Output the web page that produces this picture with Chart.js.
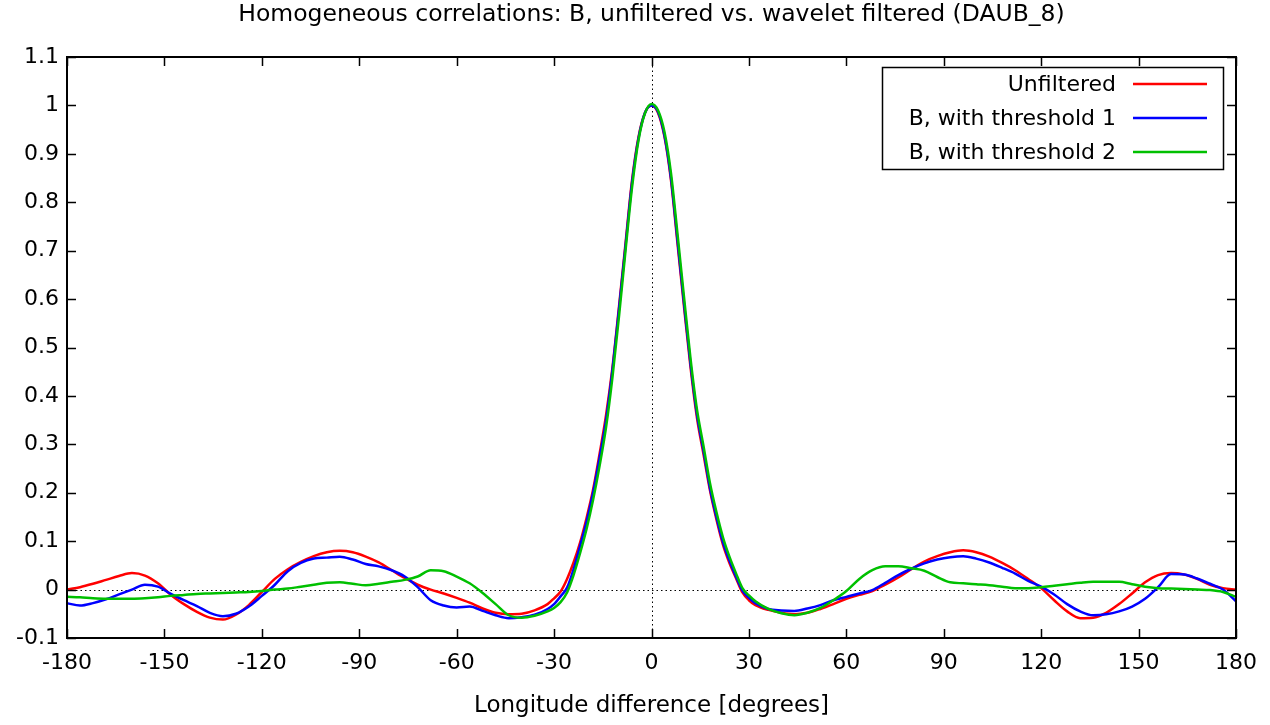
<!DOCTYPE html>
<html>
<head>
<meta charset="utf-8">
<script src="https://cdn.jsdelivr.net/npm/chart.js@4.4.1/dist/chart.umd.min.js"></script>
<style>
  html, body { margin: 0; padding: 0; background: #fff; }
  #wrap { width: 1270px; height: 725px; }
</style>
</head>
<body>
<div id="wrap"><canvas id="corrChart" width="1270" height="725"></canvas></div>
<script>
// longitude difference in degrees (coarser in the tails, finer around the peak)
const longitudes = [
  -180, -176, -172, -168, -164, -160, -156, -152, -148, -144, -140, -136, -132, -128, -124, -120, -116, -112, -108,
  -104, -100, -96, -92, -88, -84, -80, -76, -72, -68, -64, -60, -56, -52, -48, -44, -40, -36, -32,
  -30, -28, -26, -24, -22, -20, -18, -16, -14, -12, -10, -8, -6, -4, -2, 0,
  2, 4, 6, 8, 10, 12, 14, 16, 18, 20, 22, 24, 26, 28, 30,
  32, 36, 40, 44, 48, 52, 56, 60, 64, 68, 72, 76, 80, 84, 88, 92, 96, 100, 104,
  108, 112, 116, 120, 124, 128, 132, 136, 140, 144, 148, 152, 156, 160, 164, 168, 172, 176, 180
];

const unfiltered = [
  0.000, 0.005, 0.012, 0.020, 0.028, 0.034, 0.029, 0.013, -0.011, -0.030, -0.046, -0.058, -0.062, -0.052, -0.032, -0.005, 0.022, 0.042, 0.057,
  0.069, 0.077, 0.080, 0.077, 0.068, 0.056, 0.040, 0.024, 0.010, 0.000, -0.008, -0.017, -0.027, -0.039, -0.048, -0.051, -0.050, -0.043, -0.030,
  -0.018, -0.004, 0.022, 0.056, 0.097, 0.148, 0.206, 0.280, 0.360, 0.460, 0.585, 0.715, 0.845, 0.935, 0.985, 1.000,
  0.985, 0.935, 0.845, 0.715, 0.585, 0.460, 0.355, 0.280, 0.205, 0.145, 0.093, 0.055, 0.024, -0.006, -0.022,
  -0.032, -0.042, -0.048, -0.051, -0.048, -0.040, -0.030, -0.019, -0.011, -0.003, 0.010, 0.025, 0.042, 0.058, 0.069, 0.077, 0.081, 0.077, 0.068,
  0.055, 0.040, 0.022, 0.003, -0.022, -0.045, -0.059, -0.058, -0.048, -0.030, -0.008, 0.015, 0.030, 0.034, 0.031, 0.022, 0.010, 0.003, 0.000
];

const threshold1 = [
  -0.028, -0.033, -0.028, -0.020, -0.010, 0.000, 0.010, 0.006, -0.009, -0.022, -0.034, -0.048, -0.055, -0.050, -0.035, -0.013, 0.010, 0.038, 0.055,
  0.064, 0.066, 0.068, 0.062, 0.053, 0.048, 0.040, 0.027, 0.005, -0.022, -0.033, -0.037, -0.035, -0.044, -0.053, -0.059, -0.057, -0.052, -0.040,
  -0.030, -0.014, 0.004, 0.042, 0.090, 0.140, 0.200, 0.272, 0.350, 0.455, 0.580, 0.710, 0.840, 0.932, 0.985, 1.000,
  0.987, 0.938, 0.850, 0.722, 0.592, 0.467, 0.362, 0.287, 0.210, 0.150, 0.098, 0.060, 0.027, -0.002, -0.017,
  -0.028, -0.040, -0.043, -0.044, -0.039, -0.032, -0.022, -0.015, -0.008, -0.001, 0.014, 0.030, 0.043, 0.054, 0.062, 0.067, 0.069, 0.064, 0.056,
  0.045, 0.033, 0.018, 0.006, -0.010, -0.030, -0.045, -0.053, -0.051, -0.045, -0.035, -0.019, 0.005, 0.032, 0.031, 0.023, 0.012, 0.000, -0.024
];

const threshold2 = [
  -0.015, -0.016, -0.018, -0.019, -0.019, -0.019, -0.018, -0.016, -0.013, -0.011, -0.009, -0.008, -0.007, -0.006, -0.005, -0.003, 0.000, 0.002, 0.006,
  0.010, 0.014, 0.015, 0.012, 0.009, 0.012, 0.016, 0.020, 0.027, 0.040, 0.038, 0.027, 0.013, -0.007, -0.030, -0.053, -0.058, -0.054, -0.045,
  -0.038, -0.026, -0.006, 0.030, 0.075, 0.125, 0.185, 0.255, 0.335, 0.440, 0.565, 0.700, 0.830, 0.928, 0.984, 1.003,
  0.990, 0.945, 0.860, 0.735, 0.605, 0.478, 0.372, 0.297, 0.220, 0.160, 0.108, 0.068, 0.034, 0.003, -0.012,
  -0.024, -0.040, -0.049, -0.053, -0.048, -0.038, -0.022, -0.003, 0.022, 0.040, 0.048, 0.048, 0.044, 0.039, 0.026, 0.015, 0.013, 0.011, 0.009,
  0.006, 0.003, 0.003, 0.005, 0.008, 0.011, 0.014, 0.016, 0.016, 0.016, 0.011, 0.006, 0.003, 0.002, 0.001, 0.000, -0.001, -0.005, -0.015
];

const xTicks = [-180, -150, -120, -90, -60, -30, 0, 30, 60, 90, 120, 150, 180];
const yTicks = [-0.1, 0, 0.1, 0.2, 0.3, 0.4, 0.5, 0.6, 0.7, 0.8, 0.9, 1, 1.1];
const seriesNames = ["Unfiltered", "B, with threshold 1", "B, with threshold 2"];
const chartTitle = "Homogeneous correlations: B, unfiltered vs. wavelet filtered (DAUB_8)";

const FONT = "'DejaVu Sans', 'Liberation Sans', Arial, sans-serif";

function points(values) {
  return longitudes.map((lon, i) => ({ x: lon, y: values[i] }));
}

// gnuplot look: framed box, inward ticks on all sides, dotted zero axes, boxed legend
const gnuplotFrame = {
  id: 'gnuplotFrame',
  beforeDatasetsDraw(chart) {
    const { ctx, chartArea: a, scales: { x, y } } = chart;
    const x0 = Math.round(x.getPixelForValue(0)) + 0.5;
    const y0 = Math.round(y.getPixelForValue(0)) + 0.5;
    ctx.save();
    ctx.strokeStyle = '#000';
    ctx.lineWidth = 1;
    ctx.setLineDash([1.5, 3]);
    ctx.beginPath();
    ctx.moveTo(a.left, y0); ctx.lineTo(a.right, y0);
    ctx.moveTo(x0, a.top); ctx.lineTo(x0, a.bottom);
    ctx.stroke();
    ctx.restore();
  },
  afterDraw(chart) {
    const { ctx, chartArea: a, scales: { x, y } } = chart;
    const tick = 9;
    ctx.save();
    ctx.strokeStyle = '#000';
    ctx.lineWidth = 2;
    ctx.strokeRect(a.left, a.top, a.right - a.left, a.bottom - a.top);

    ctx.lineWidth = 1.5;
    ctx.beginPath();
    xTicks.forEach(v => {
      const px = Math.round(x.getPixelForValue(v)) + 0.5;
      ctx.moveTo(px, a.bottom); ctx.lineTo(px, a.bottom - tick);
      ctx.moveTo(px, a.top); ctx.lineTo(px, a.top + tick);
    });
    yTicks.forEach(v => {
      const py = Math.round(y.getPixelForValue(v)) + 0.5;
      ctx.moveTo(a.left, py); ctx.lineTo(a.left + tick, py);
      ctx.moveTo(a.right, py); ctx.lineTo(a.right - tick, py);
    });
    ctx.stroke();

    // title
    ctx.fillStyle = '#000';
    ctx.font = '23.5px ' + FONT;
    ctx.textAlign = 'center';
    ctx.textBaseline = 'middle';
    ctx.fillText(chartTitle, (a.left + a.right) / 2, 15);

    // legend
    const boxW = 341, boxH = 102;
    const bx = a.right - 13 - boxW, by = a.top + 10;
    ctx.lineWidth = 1.5;
    ctx.strokeRect(bx + 0.5, by + 0.5, boxW, boxH);
    ctx.font = '22px ' + FONT;
    ctx.textAlign = 'right';
    chart.data.datasets.forEach((ds, i) => {
      const ry = by + 17 + i * 34;
      ctx.fillStyle = '#000';
      ctx.fillText(ds.label, bx + 234, ry + 1);
      ctx.strokeStyle = ds.borderColor;
      ctx.lineWidth = 2.5;
      ctx.beginPath();
      ctx.moveTo(bx + 251, ry); ctx.lineTo(bx + 325, ry);
      ctx.stroke();
    });
    ctx.restore();
  }
};

const ctx = document.getElementById('corrChart');
const colors = ['#ff0000', '#0000ff', '#00c000'];
const seriesValues = [unfiltered, threshold1, threshold2];

new Chart(ctx, {
  type: 'line',
  data: {
    datasets: seriesValues.map((vals, i) => ({
      label: seriesNames[i],
      data: points(vals),
      borderColor: colors[i],
      borderWidth: 2.5,
      pointRadius: 0,
      fill: false,
      cubicInterpolationMode: 'monotone',
      order: 2 - i
    }))
  },
  options: {
    responsive: false,
    devicePixelRatio: 1,
    animation: false,
    layout: { padding: { top: 57, right: 34, left: 0, bottom: 0 } },
    plugins: {
      legend: { display: false },
      title: { display: false },
      tooltip: { enabled: false }
    },
    scales: {
      x: {
        type: 'linear',
        min: -180,
        max: 180,
        afterBuildTicks: scale => { scale.ticks = xTicks.map(v => ({ value: v })); },
        afterFit: scale => { scale.height = 87; },
        grid: { display: false, drawTicks: false },
        border: { display: false },
        ticks: {
          padding: 12,
          maxRotation: 0,
          autoSkip: false,
          color: '#000',
          font: { family: FONT, size: 22 },
          callback: v => String(v)
        },
        title: {
          display: true,
          text: 'Longitude difference [degrees]',
          color: '#000',
          font: { family: FONT, size: 23 },
          padding: { top: 0, bottom: 5 }
        }
      },
      y: {
        min: -0.1,
        max: 1.1,
        afterBuildTicks: scale => { scale.ticks = yTicks.map(v => ({ value: v })); },
        afterFit: scale => { scale.width = 67; },
        grid: { display: false, drawTicks: false },
        border: { display: false },
        ticks: {
          padding: 8,
          color: '#000',
          font: { family: FONT, size: 22 },
          callback: v => String(+v.toFixed(1))
        }
      }
    }
  },
  plugins: [gnuplotFrame]
});
</script>
</body>
</html>
